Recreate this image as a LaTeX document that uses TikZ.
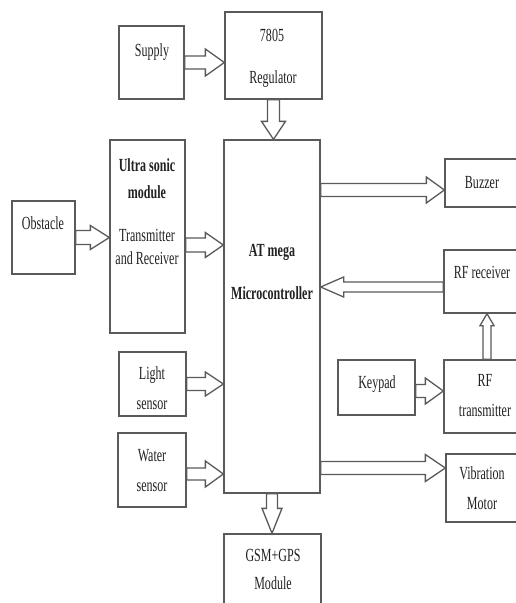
\documentclass[tikz,border=0pt]{standalone}
\usepackage{fontspec}
\setmainfont{Liberation Serif}[FakeStretch=0.65]
\usetikzlibrary{calc}
\definecolor{lc}{HTML}{5A5A5A}
\definecolor{tc}{HTML}{222222}
\tikzset{
  box/.style={draw=lc, line width=1.3pt, fill=white, rectangle, inner sep=0pt},
  lbl/.style={inner sep=0pt, text height=12pt, text depth=0pt, text=tc,
              font=\fontsize{18.5}{18.5}\selectfont},
  blbl/.style={lbl, font=\fontsize{18.5}{18.5}\selectfont\bfseries},
  blk/.style n args={3}{draw=lc, line width=1.3pt, fill=white, line join=miter,
   to path={
    let \p1=(\tikztostart), \p2=(\tikztotarget),
        \n1={veclen(\x2-\x1,\y2-\y1)},
        \n2={(\x2-\x1)/\n1}, \n3={(\y2-\y1)/\n1}
    in ({\x1-\n3*#1},{\y1+\n2*#1})
    -- ({\x2-\n2*#3-\n3*#1},{\y2-\n3*#3+\n2*#1})
    -- ({\x2-\n2*#3-\n3*#2},{\y2-\n3*#3+\n2*#2})
    -- (\x2,\y2)
    -- ({\x2-\n2*#3+\n3*#2},{\y2-\n3*#3-\n2*#2})
    -- ({\x2-\n2*#3+\n3*#1},{\y2-\n3*#3-\n2*#1})
    -- ({\x1+\n3*#1},{\y1-\n2*#1}) -- cycle}}
}
\begin{document}
\begin{tikzpicture}[x=1pt,y=-1pt]
\useasboundingbox (0,0) rectangle (516,603);
\clip (0,0) rectangle (516,603);
\fill[white] (0,0) rectangle (516,603);

% boxes
\node[box, minimum width=65pt, minimum height=73pt] (supply) at (151.5,62.5) {};
\node[box, minimum width=97pt, minimum height=87pt] (reg) at (273.5,55.5) {};
\node[box, minimum width=75pt, minimum height=193pt] (us) at (147.5,236.5) {};
\node[box, minimum width=63pt, minimum height=73pt] (obs) at (43.5,237.5) {};
\node[box, minimum width=96pt, minimum height=353pt] (mc) at (272,316.5) {};
\node[box, minimum width=67pt, minimum height=64pt] (light) at (152.5,384) {};
\node[box, minimum width=68pt, minimum height=74pt] (water) at (152,470) {};
\node[box, minimum width=97pt, minimum height=86pt] (gsm) at (272.5,577) {};
\node[box, minimum width=85pt, minimum height=48pt] (buzzer) at (487.5,183) {};
\node[box, minimum width=86pt, minimum height=63pt] (rfrx) at (487,281.5) {};
\node[box, minimum width=77pt, minimum height=55pt] (keypad) at (376.5,387.5) {};
\node[box, minimum width=86pt, minimum height=73pt] (rftx) at (487,396.5) {};
\node[box, minimum width=84pt, minimum height=68pt] (vib) at (488,488) {};

% texts
\node[lbl] (tsupply) at (152,50) {Supply};
\node[lbl] (t7805) at (272,35) {7805};
\node[lbl] (treg) at (273,77) {Regulator};
\node[blbl] (tus1) at (147,165) {Ultra sonic};
\node[blbl] (tus2) at (147,192) {module};
\node[lbl] (tus3) at (147,235) {Transmitter};
\node[lbl] (tus4) at (147,258) {and Receiver};
\node[lbl] (tobs) at (43,223) {Obstacle};
\node[blbl] (tmc1) at (272,250) {AT mega};
\node[blbl] (tmc2) at (272,293) {Microcontroller};
\node[lbl] (tl1) at (152,373) {Light};
\node[lbl] (tl2) at (152,403) {sensor};
\node[lbl] (tw1) at (152,455) {Water};
\node[lbl] (tw2) at (152,485) {sensor};
\node[lbl] (tg1) at (273,555) {GSM+GPS};
\node[lbl] (tg2) at (273,583) {Module};
\node[lbl] (tbz) at (482,182) {Buzzer};
\node[lbl] (trx) at (482,272) {RF receiver};
\node[lbl] (tkp) at (377,382) {Keypad};
\node[lbl] (ttx1) at (485,380) {RF};
\node[lbl] (ttx2) at (485,410) {transmitter};
\node[lbl] (tv1) at (482,473) {Vibration};
\node[lbl] (tv2) at (482,503) {Motor};

% connector end points
\coordinate (usout) at ($(us.east)+(0,8.5)$);
\coordinate (wout) at ($(water.east)+(0,4)$);
\coordinate (bzin) at ($(buzzer.west)+(0,7)$);
\coordinate (rxout) at ($(rfrx.west)+(0,5.5)$);
\coordinate (kpout) at ($(keypad.east)+(0,3.5)$);
\coordinate (vbin) at ($(vib.west)+(0,-20)$);

% block arrows
\draw[blk={6.5}{13.5}{19}] (supply.east) to (supply.east -| reg.west);
\draw[blk={6}{12}{18}] (reg.south) to (reg.south |- mc.north);
\draw[blk={7}{12}{19}] (obs.east) to (obs.east -| us.west);
\draw[blk={7}{12.5}{18}] (usout) to (usout -| mc.west);
\draw[blk={6.5}{12}{18}] (light.east) to (light.east -| mc.west);
\draw[blk={6}{13}{18}] (wout) to (wout -| mc.west);
\draw[blk={6.5}{13}{18}] (bzin -| mc.east) to (bzin);
\draw[blk={5}{10}{23}] (rxout) to (rxout -| mc.east);
\draw[blk={6.5}{13}{18}] (kpout) to (kpout -| rftx.west);
\draw[blk={4}{7}{12}] (rftx.north) to (rfrx.south);
\draw[blk={6.5}{13.5}{20}] (vbin -| mc.east) to (vbin);
\draw[blk={5.5}{10}{25}] (mc.south) to (mc.south |- gsm.north);
\end{tikzpicture}
\end{document}
